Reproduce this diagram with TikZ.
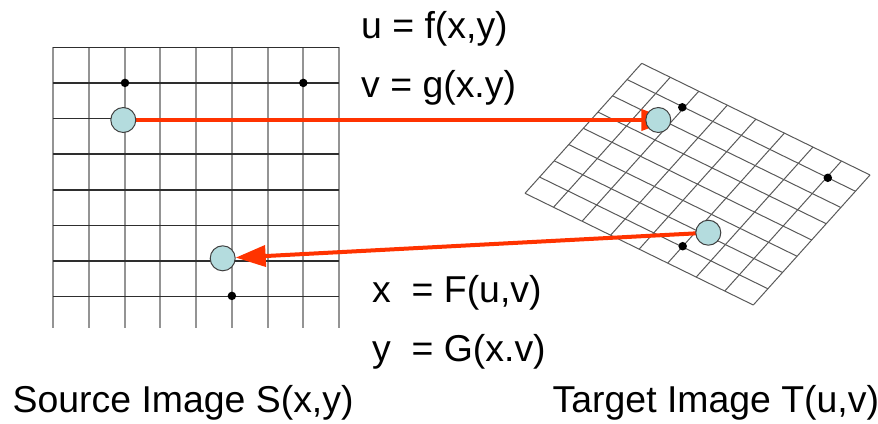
\documentclass[tikz,border=0pt]{standalone}
\usepackage{fontspec}
\setmainfont{Liberation Sans}
\usetikzlibrary{arrows.meta,calc}
\definecolor{warpred}{RGB}{255,51,0}
\definecolor{ptfill}{RGB}{180,220,222}
\pgfdeclarelayer{bg}
\pgfsetlayers{bg,main}
\begin{document}
\begin{tikzpicture}[x=1pt,y=-1pt,
  lbl/.style={inner sep=0pt, anchor=base west, font=\fontsize{37.4}{40}\selectfont},
  vline/.style={line width=2pt, draw=black!42},
  hline/.style={line width=1.5pt, draw=black!82},
  wline/.style={line width=1pt, draw=black!65},
  dotpt/.style={circle, fill=black, inner sep=0pt, minimum size=8.5pt},
  mappt/.style={circle, draw=black!75, line width=1pt, fill=ptfill, inner sep=0pt, minimum size=25pt},
  warp/.style={line width=4pt, draw=warpred, -{Triangle[length=30pt,width=21pt]}}
]
\useasboundingbox (0,0) rectangle (878,423);

% corners of the warped grid
\coordinate (T) at (641.7,63.3);
\coordinate (R) at (870,175);
\coordinate (B) at (753.3,305);
\coordinate (L) at (525,193.3);

% dots
\node[dotpt] (d1) at (125,82.9) {};
\node[dotpt] (d2) at (303.3,82.9) {};
\node[dotpt] (d3) at (231.9,295.9) {};
\node[dotpt] (d4) at (682.3,107.3) {};
\node[dotpt] (d5) at (827.8,177.8) {};
\node[dotpt] (d6) at (682.7,246.2) {};

% mapped points
\node[mappt] (c1) at (123.3,120) {};
\node[mappt] (c2) at (658.3,120) {};
\node[mappt] (c3) at (222.7,258.3) {};
\node[mappt] (c4) at (708.3,232.7) {};

% labels
\node[lbl] (ufx) at (361,38.5) {u = f(x,y)};
\node[lbl] (vgx) at (361,97) {v = g(x.y)};
\node[lbl] (xFu) at (372,302) {x\ \ = F(u,v)};
\node[lbl] (yGx) at (372,361.5) {y\ \ = G(x.v)};
\node[lbl] (src) at (12.5,412.3) {Source Image S(x,y)};
\node[lbl] (tgt) at (552.5,412.3) {Target Image T(u,v)};

\begin{pgfonlayer}{bg}
  % source grid
  \foreach \k in {0,...,8}
    \draw[vline] ({53.3+\k*35.71},47.3) -- ({53.3+\k*35.71},328);
  \foreach \k in {0,...,7}
    \draw[hline] (53.3,{47.3+\k*35.63}) -- (339,{47.3+\k*35.63});
  % target grid
  \foreach \i in {0,...,8}
    \draw[wline] ($(T)!\i/8!(R)$) -- ($(L)!\i/8!(B)$);
  \foreach \j in {0,...,8}
    \draw[wline] ($(T)!\j/8!(L)$) -- ($(R)!\j/8!(B)$);
  % mapping arrows
  \draw[warp] (c1) -- (c2.east);
  \draw[warp] (c4.center) -- (c3);
\end{pgfonlayer}
\end{tikzpicture}
\end{document}
